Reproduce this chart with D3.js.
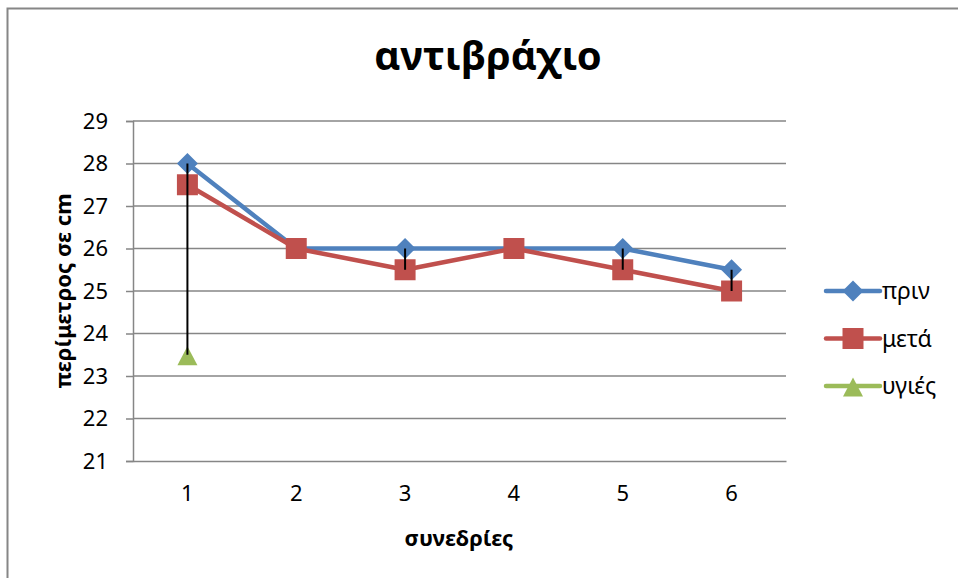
<!DOCTYPE html>
<html>
<head>
<meta charset="utf-8">
<script src="https://cdn.jsdelivr.net/npm/d3@7"></script>
<style>
  body { margin: 0; background: #fff; }
  svg { display: block; font-family: "Noto Sans", "Open Sans", sans-serif; }
</style>
</head>
<body>
<svg id="chart" width="958" height="578"></svg>
<script>
// Sessions on the x axis
const sessions = [1, 2, 3, 4, 5, 6];
// Forearm circumference (cm)
const before = [28, 26, 26, 26, 26, 25.5];
const after = [27.5, 26, 25.5, 26, 25.5, 25];
const healthy = [23.5, null, null, null, null, null];
const yTicks = [21, 22, 23, 24, 25, 26, 27, 28, 29];

const series = [
  { name: "πριν", values: before, color: "#4F81BD", shape: "diamond" },
  { name: "μετά", values: after, color: "#C0504D", shape: "square" },
  { name: "υγιές", values: healthy, color: "#9BBB59", shape: "triangle" }
];

const svg = d3.select("#chart");
const margin = { left: 133, right: 172, top: 121, bottom: 117 };
const W = 958, H = 578;

// chart-area frame (runs past the right and bottom edges)
svg.append("rect").attr("x", 7.5).attr("y", 8.5).attr("width", 970).attr("height", 590)
  .attr("fill", "#fff").attr("stroke", "#868686").attr("stroke-width", 2);

const x = d3.scaleBand().domain(sessions).range([margin.left, W - margin.right]);
const y = d3.scaleLinear().domain([21, 29]).range([H - margin.bottom, margin.top]);
const cx = v => x(v) + x.bandwidth() / 2;

// gridlines
svg.append("g").selectAll("line").data(yTicks.slice(1)).join("line")
  .attr("x1", margin.left).attr("x2", W - margin.right)
  .attr("y1", d => y(d)).attr("y2", d => y(d))
  .attr("stroke", "#868686").attr("stroke-width", 1.5);

// y axis
const yAxis = svg.append("g").attr("transform", `translate(${margin.left},0)`)
  .call(d3.axisLeft(y).tickValues(yTicks).tickSize(7).tickPadding(18).tickFormat(d3.format("d")));
yAxis.select(".domain").attr("stroke", "#868686").attr("stroke-width", 1.5);
yAxis.selectAll(".tick line").attr("stroke", "#868686").attr("stroke-width", 1.5);
yAxis.selectAll("text").attr("font-size", 22).attr("fill", "#000")
  .attr("font-family", "'Noto Sans', sans-serif");

// x axis
const xAxis = svg.append("g").attr("transform", `translate(0,${H - margin.bottom})`)
  .call(d3.axisBottom(x).tickSize(0).tickPadding(24));
xAxis.select(".domain").attr("stroke", "#868686").attr("stroke-width", 1.5);
xAxis.selectAll("text").attr("font-size", 22).attr("fill", "#000")
  .attr("font-family", "'Noto Sans', sans-serif");

// title and axis titles
svg.append("text").attr("x", 488).attr("y", 70).attr("text-anchor", "middle")
  .attr("font-size", 40).attr("font-weight", "bold").text("αντιβράχιο");
svg.append("text").attr("x", 459).attr("y", 546).attr("text-anchor", "middle")
  .attr("font-size", 22).attr("font-weight", "bold").text("συνεδρίες");
svg.append("text").attr("transform", `translate(71,${(margin.top + H - margin.bottom) / 2}) rotate(-90)`)
  .attr("text-anchor", "middle").attr("font-size", 22).attr("font-weight", "bold")
  .text("περίμετρος σε cm");

// marker shapes centred on the data point
function markerPath(shape) {
  const p = d3.path();
  if (shape === "diamond") {
    const r = 10.5;
    p.moveTo(0, -r); p.lineTo(r, 0); p.lineTo(0, r); p.lineTo(-r, 0); p.closePath();
  } else if (shape === "square") {
    const h = 10.5;
    p.rect(-h, -h, 2 * h, 2 * h);
  } else {
    const w = 10, t = 8.5, b = 10.5;
    p.moveTo(0, -t); p.lineTo(w, b); p.lineTo(-w, b); p.closePath();
  }
  return p.toString();
}

// series lines and markers
const line = d3.line().defined(d => d[1] != null).x(d => cx(d[0])).y(d => y(d[1]));
series.forEach(s => {
  const pts = sessions.map((c, i) => [c, s.values[i]]);
  svg.append("path").datum(pts).attr("d", line).attr("fill", "none")
    .attr("stroke", s.color).attr("stroke-width", 4.5).attr("stroke-linejoin", "round");
  svg.append("g").selectAll("path").data(pts.filter(d => d[1] != null)).join("path")
    .attr("d", markerPath(s.shape))
    .attr("transform", d => `translate(${cx(d[0])},${y(d[1])})`)
    .attr("fill", s.color);
});

// high-low lines
svg.append("g").selectAll("line").data(sessions).join("line")
  .attr("x1", d => cx(d)).attr("x2", d => cx(d))
  .attr("y1", (d, i) => y(d3.max(series, s => s.values[i])))
  .attr("y2", (d, i) => y(d3.min(series, s => s.values[i])))
  .attr("stroke", "#000").attr("stroke-width", 2);

// legend
const leg = svg.append("g");
series.forEach((s, i) => {
  const ly = 291 + i * 47.5;
  leg.append("line").attr("x1", 826).attr("x2", 880).attr("y1", ly).attr("y2", ly)
    .attr("stroke", s.color).attr("stroke-width", 4.5).attr("stroke-linecap", "round");
  leg.append("path").attr("d", markerPath(s.shape))
    .attr("transform", `translate(853,${ly})`).attr("fill", s.color);
  leg.append("text").attr("x", 882).attr("y", ly + 8).attr("font-size", 23).text(s.name);
});
</script>
</body>
</html>
